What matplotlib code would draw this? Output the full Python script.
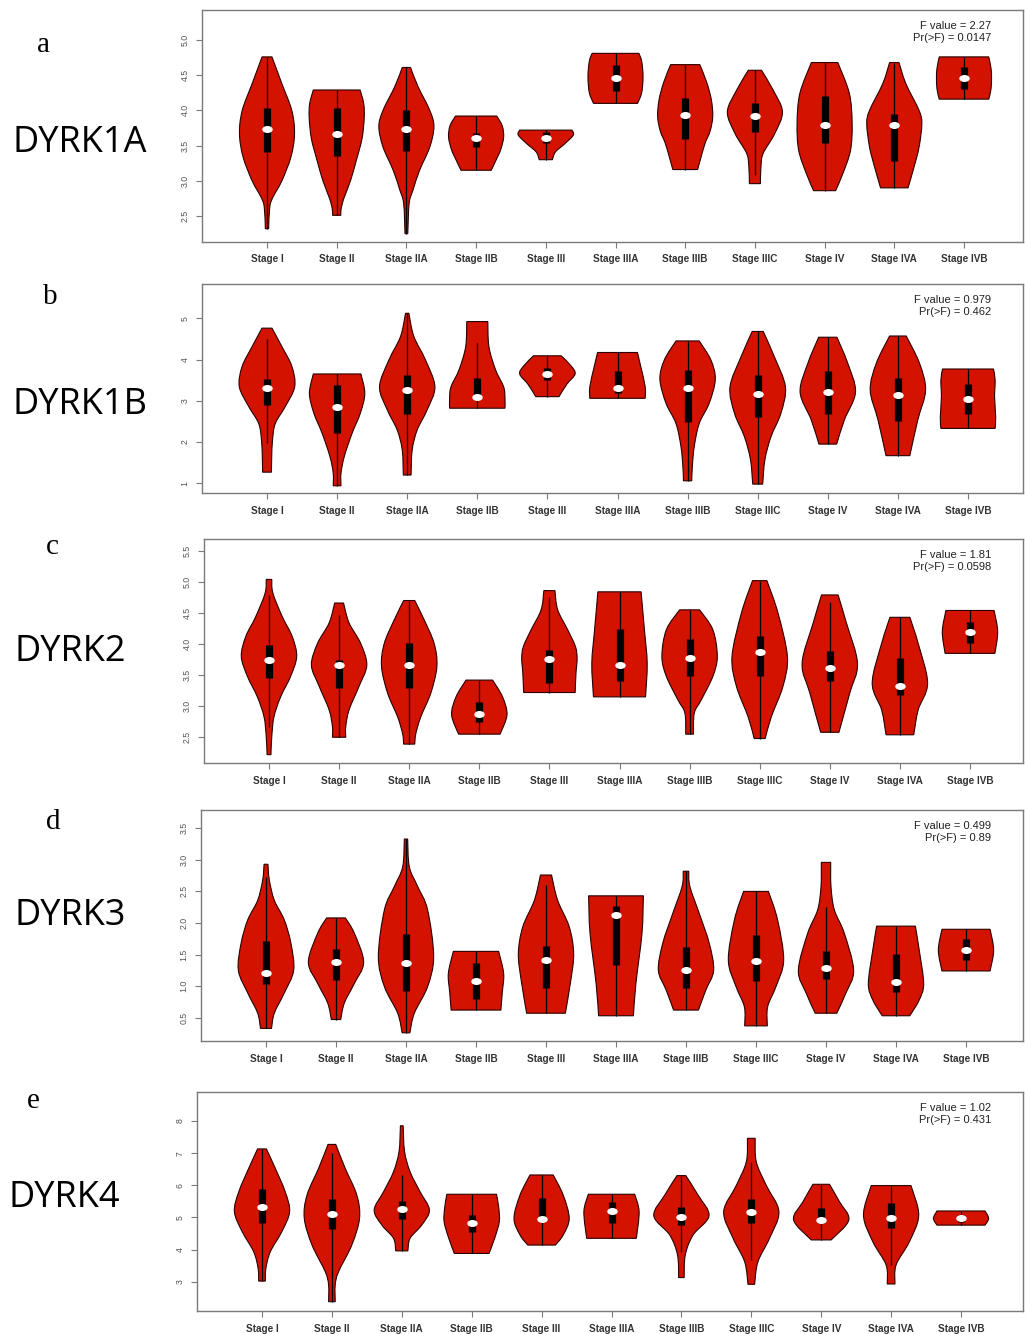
import numpy as np
import matplotlib.pyplot as plt
from matplotlib.path import Path
from matplotlib.patches import PathPatch
from matplotlib.transforms import Affine2D

stages = ["Stage I", "Stage II", "Stage IIA", "Stage IIB", "Stage III", "Stage IIIA",
          "Stage IIIB", "Stage IIIC", "Stage IV", "Stage IVA", "Stage IVB"]

# ---- DYRK1A ----
# density profiles: (expression, relative width), listed from top to bottom
dyrk1a_profiles = [
    [(4.76, 0.18), (4.38, 0.54), (4.0, 0.9), (3.67, 1.0), (3.34, 0.87), (3.0, 0.54), (2.77, 0.22), (2.63, 0.1), (2.32, 0.06)],
    [(4.29, 0.85), (4.1, 0.98), (3.9, 1.0), (3.6, 0.92), (3.3, 0.72), (3.0, 0.5), (2.75, 0.26), (2.6, 0.16), (2.51, 0.15)],
    [(4.61, 0.15), (4.34, 0.42), (4.0, 0.85), (3.77, 1.0), (3.48, 0.85), (3.15, 0.48), (2.87, 0.24), (2.68, 0.1), (2.25, 0.05)],
    [(3.92, 0.75), (3.78, 0.95), (3.62, 1.0), (3.45, 0.9), (3.34, 0.78), (3.15, 0.55)],
    [(3.72, 0.95), (3.65, 1.0), (3.53, 0.7), (3.41, 0.35), (3.30, 0.24)],
    [(4.81, 0.85), (4.7, 0.95), (4.48, 1.0), (4.25, 0.95), (4.10, 0.8)],
    [(4.65, 0.53), (4.4, 0.78), (4.15, 0.95), (3.91, 1.0), (3.7, 0.9), (3.53, 0.72), (3.3, 0.55), (3.16, 0.45)],
    [(4.57, 0.24), (4.29, 0.66), (3.98, 1.0), (3.67, 0.72), (3.39, 0.3), (3.2, 0.22), (2.96, 0.2)],
    [(4.68, 0.48), (4.24, 0.9), (3.81, 1.0), (3.43, 0.94), (3.10, 0.66), (2.86, 0.4)],
    [(4.68, 0.17), (4.38, 0.42), (4.0, 0.9), (3.81, 1.0), (3.48, 0.9), (3.2, 0.72), (2.90, 0.5)],
    [(4.76, 0.9), (4.6, 0.98), (4.47, 1.0), (4.3, 0.98), (4.16, 0.9)],
]
dyrk1a_median = [3.74, 3.66, 3.74, 3.61, 3.61, 4.46, 3.93, 3.92, 3.79, 3.79, 4.46]
dyrk1a_q1 = [3.41, 3.35, 3.43, 3.48, 3.53, 4.28, 3.60, 3.70, 3.54, 3.28, 4.31]
dyrk1a_q3 = [4.04, 4.03, 4.01, 3.68, 3.70, 4.64, 4.18, 4.11, 4.20, 3.95, 4.62]
dyrk1a_whisk_lo = [None, None, None, None, None, None, None, 3.08, None, None, None]
dyrk1a_whisk_hi = [None] * 11
dyrk1a_yticks = [2.5, 3.0, 3.5, 4.0, 4.5, 5.0]
dyrk1a_stats = ("2.27", "0.0147")

# ---- DYRK1B ----
dyrk1b_profiles = [
    [(4.76, 0.18), (4.31, 0.54), (3.83, 0.9), (3.34, 1.0), (2.86, 0.66), (2.45, 0.3), (2.05, 0.2), (1.65, 0.17), (1.27, 0.16)],
    [(3.65, 0.86), (3.18, 1.0), (2.70, 0.84), (2.21, 0.54), (1.65, 0.26), (1.24, 0.14), (0.94, 0.14)],
    [(5.12, 0.06), (4.56, 0.24), (3.99, 0.66), (3.34, 1.0), (2.78, 0.72), (2.29, 0.36), (1.81, 0.18), (1.20, 0.14)],
    [(4.92, 0.38), (4.31, 0.42), (3.75, 0.66), (3.34, 0.95), (3.06, 1.0), (2.82, 1.0)],
    [(4.09, 0.5), (3.85, 0.85), (3.65, 1.0), (3.4, 0.7), (3.10, 0.42)],
    [(4.17, 0.72), (3.83, 0.84), (3.34, 1.0), (3.06, 1.0)],
    [(4.45, 0.42), (3.99, 0.84), (3.52, 1.0), (2.94, 0.78), (2.45, 0.42), (1.89, 0.24), (1.40, 0.17), (1.06, 0.15)],
    [(4.68, 0.2), (4.07, 0.6), (3.34, 1.0), (2.70, 0.84), (2.13, 0.48), (1.57, 0.26), (0.98, 0.18)],
    [(4.54, 0.33), (3.91, 0.72), (3.21, 1.0), (2.54, 0.6), (1.95, 0.32)],
    [(4.57, 0.3), (3.91, 0.78), (3.26, 1.0), (2.54, 0.72), (1.67, 0.43)],
    [(3.77, 0.92), (3.5, 0.98), (3.1, 0.96), (2.6, 1.0), (2.33, 0.98)],
]
dyrk1b_median = [3.30, 2.84, 3.25, 3.08, 3.64, 3.32, 3.32, 3.17, 3.21, 3.14, 3.04]
dyrk1b_q1 = [2.90, 2.23, 2.67, 3.05, 3.51, 3.20, 2.49, 2.60, 2.68, 2.52, 2.68]
dyrk1b_q3 = [3.52, 3.38, 3.63, 3.55, 3.79, 3.73, 3.75, 3.63, 3.71, 3.54, 3.41]
dyrk1b_whisk_lo = [1.97, None, None, None, None, None, None, None, None, None, None]
dyrk1b_whisk_hi = [4.49, None, None, 4.39, None, None, None, None, None, None, None]
dyrk1b_yticks = [1, 2, 3, 4, 5]
dyrk1b_stats = ("0.979", "0.462")

# ---- DYRK2 ----
dyrk2_profiles = [
    [(5.04, 0.1), (4.82, 0.14), (4.44, 0.48), (4.12, 0.84), (3.80, 1.0), (3.48, 0.78), (3.15, 0.42), (2.83, 0.18), (2.51, 0.1), (2.22, 0.07)],
    [(4.66, 0.16), (4.34, 0.36), (4.01, 0.78), (3.66, 1.0), (3.32, 0.72), (2.94, 0.36), (2.67, 0.24), (2.50, 0.24)],
    [(4.70, 0.2), (4.39, 0.54), (4.01, 0.9), (3.64, 1.0), (3.21, 0.78), (2.83, 0.42), (2.56, 0.24), (2.39, 0.2)],
    [(3.42, 0.48), (3.15, 0.84), (2.86, 1.0), (2.55, 0.75)],
    [(4.86, 0.2), (4.55, 0.3), (4.23, 0.66), (3.96, 0.94), (3.77, 1.0), (3.53, 0.96), (3.22, 0.93)],
    [(4.84, 0.78), (4.23, 0.9), (3.69, 1.0), (3.15, 0.94)],
    [(4.55, 0.36), (4.23, 0.84), (3.80, 1.0), (3.48, 0.84), (3.10, 0.42), (2.89, 0.17), (2.55, 0.14)],
    [(5.02, 0.26), (4.50, 0.66), (3.80, 1.0), (3.32, 0.84), (2.83, 0.42), (2.48, 0.2)],
    [(4.79, 0.3), (4.34, 0.6), (3.69, 1.0), (3.21, 0.72), (2.58, 0.33)],
    [(4.43, 0.36), (4.01, 0.66), (3.37, 1.0), (2.94, 0.66), (2.54, 0.5)],
    [(4.54, 0.87), (4.20, 1.0), (3.85, 0.9)],
]
dyrk2_median = [3.74, 3.66, 3.67, 2.88, 3.76, 3.67, 3.78, 3.87, 3.61, 3.33, 4.20]
dyrk2_q1 = [3.45, 3.29, 3.30, 2.74, 3.37, 3.41, 3.49, 3.48, 3.40, 3.18, 4.02]
dyrk2_q3 = [3.99, 3.74, 4.02, 3.06, 3.91, 4.25, 4.08, 4.13, 3.89, 3.77, 4.36]
dyrk2_whisk_lo = [2.67, None, None, None, None, None, None, None, None, None, None]
dyrk2_whisk_hi = [4.79, 4.47, None, None, 4.76, None, None, None, 4.68, None, None]
dyrk2_yticks = [2.5, 3.0, 3.5, 4.0, 4.5, 5.0, 5.5]
dyrk2_stats = ("1.81", "0.0598")

# ---- DYRK3 ----
dyrk3_profiles = [
    [(2.93, 0.07), (2.68, 0.12), (2.36, 0.3), (2.05, 0.66), (1.68, 0.9), (1.25, 1.0), (0.89, 0.66), (0.57, 0.3), (0.33, 0.2)],
    [(2.08, 0.34), (1.84, 0.66), (1.38, 1.0), (1.04, 0.66), (0.73, 0.3), (0.47, 0.17)],
    [(3.33, 0.06), (2.89, 0.12), (2.58, 0.42), (2.21, 0.78), (1.47, 1.0), (0.99, 0.78), (0.57, 0.3), (0.26, 0.14)],
    [(1.55, 0.82), (1.2, 1.0), (0.9, 0.95), (0.62, 0.9)],
    [(2.76, 0.2), (2.36, 0.42), (1.94, 0.84), (1.52, 1.0), (1.10, 0.9), (0.57, 0.7)],
    [(2.43, 0.99), (1.84, 0.94), (1.04, 0.72), (0.53, 0.63)],
    [(2.82, 0.1), (2.58, 0.14), (2.15, 0.48), (1.68, 0.84), (1.25, 1.0), (0.94, 0.72), (0.62, 0.45)],
    [(2.50, 0.45), (2.05, 0.78), (1.41, 1.0), (0.99, 0.72), (0.67, 0.42), (0.37, 0.41)],
    [(2.96, 0.17), (2.58, 0.18), (2.21, 0.3), (1.84, 0.66), (1.25, 1.0), (0.89, 0.72), (0.57, 0.39)],
    [(1.95, 0.7), (1.57, 0.84), (1.04, 1.0), (0.78, 0.84), (0.53, 0.5)],
    [(1.90, 0.87), (1.57, 1.0), (1.24, 0.87)],
]
dyrk3_median = [1.20, 1.38, 1.36, 1.08, 1.42, 2.13, 1.25, 1.40, 1.28, 1.07, 1.57]
dyrk3_q1 = [1.04, 1.10, 0.93, 0.80, 0.97, 1.33, 0.97, 1.08, 1.12, 0.91, 1.41]
dyrk3_q3 = [1.72, 1.58, 1.83, 1.36, 1.64, 2.27, 1.62, 1.81, 1.56, 1.51, 1.74]
dyrk3_whisk_lo = [None] * 11
dyrk3_whisk_hi = [2.73, None, None, None, 2.60, None, None, None, 2.26, None, None]
dyrk3_yticks = [0.5, 1.0, 1.5, 2.0, 2.5, 3.0, 3.5]
dyrk3_stats = ("0.499", "0.89")

# ---- DYRK4 ----
dyrk4_profiles = [
    [(7.13, 0.16), (6.53, 0.48), (5.80, 0.84), (5.18, 1.0), (4.56, 0.72), (3.93, 0.3), (3.41, 0.14), (3.02, 0.12)],
    [(7.27, 0.14), (6.53, 0.48), (5.70, 0.9), (4.97, 1.0), (4.14, 0.72), (3.31, 0.24), (2.90, 0.12), (2.38, 0.12)],
    [(7.85, 0.05), (7.05, 0.1), (6.42, 0.3), (5.80, 0.66), (5.23, 1.0), (4.76, 0.72), (4.35, 0.3), (3.96, 0.22)],
    [(5.72, 0.9), (5.3, 0.98), (4.87, 1.0), (4.4, 0.85), (3.88, 0.63)],
    [(6.32, 0.42), (5.70, 0.78), (4.97, 1.0), (4.45, 0.78), (4.14, 0.5)],
    [(5.72, 0.84), (5.18, 1.0), (4.35, 0.9)],
    [(6.30, 0.16), (5.70, 0.6), (5.05, 1.0), (4.45, 0.42), (3.83, 0.14), (3.13, 0.1)],
    [(7.46, 0.14), (6.73, 0.18), (6.0, 0.54), (5.18, 1.0), (4.35, 0.66), (3.62, 0.24), (2.92, 0.12)],
    [(6.03, 0.3), (5.49, 0.66), (4.92, 1.0), (4.30, 0.36)],
    [(5.99, 0.72), (5.07, 1.0), (4.24, 0.66), (3.52, 0.18), (2.93, 0.14)],
    [(5.20, 0.87), (4.97, 1.0), (4.76, 0.87)],
]
dyrk4_median = [5.31, 5.10, 5.25, 4.82, 4.95, 5.20, 5.02, 5.18, 4.92, 4.99, 4.97]
dyrk4_q1 = [4.82, 4.64, 4.95, 4.56, 4.85, 4.82, 4.76, 4.82, 4.82, 4.66, 4.87]
dyrk4_q3 = [5.88, 5.56, 5.51, 5.07, 5.61, 5.49, 5.33, 5.56, 5.28, 5.44, 5.08]
dyrk4_whisk_lo = [None, None, None, None, None, None, 3.93, 3.67, None, 3.52, None]
dyrk4_whisk_hi = [None, 6.99, 6.32, None, None, None, None, 6.73, None, None, None]
dyrk4_yticks = [3, 4, 5, 6, 7, 8]
dyrk4_stats = ("1.02", "0.431")

panels = [
    ("a", "DYRK1A", dyrk1a_profiles, dyrk1a_median, dyrk1a_q1, dyrk1a_q3, dyrk1a_whisk_lo, dyrk1a_whisk_hi, dyrk1a_yticks, dyrk1a_stats),
    ("b", "DYRK1B", dyrk1b_profiles, dyrk1b_median, dyrk1b_q1, dyrk1b_q3, dyrk1b_whisk_lo, dyrk1b_whisk_hi, dyrk1b_yticks, dyrk1b_stats),
    ("c", "DYRK2", dyrk2_profiles, dyrk2_median, dyrk2_q1, dyrk2_q3, dyrk2_whisk_lo, dyrk2_whisk_hi, dyrk2_yticks, dyrk2_stats),
    ("d", "DYRK3", dyrk3_profiles, dyrk3_median, dyrk3_q1, dyrk3_q3, dyrk3_whisk_lo, dyrk3_whisk_hi, dyrk3_yticks, dyrk3_stats),
    ("e", "DYRK4", dyrk4_profiles, dyrk4_median, dyrk4_q1, dyrk4_q3, dyrk4_whisk_lo, dyrk4_whisk_hi, dyrk4_yticks, dyrk4_stats),
]

# layout in pixels: axes box (left, top, bottom), y limits, x of first/last tick,
# letter position, gene label position
W, H = 1025, 1334
RIGHT = 1023
layout = [
    dict(left=202, top=10, bottom=242, ylim=(2.131, 5.426), x1=267, x11=964, letter=(43, 45), gene=(12, 143)),
    dict(left=202, top=284, bottom=493, ylim=(0.765, 5.83), x1=267, x11=968, letter=(50, 297), gene=(12, 405)),
    dict(left=204, top=539, bottom=763, ylim=(2.086, 5.69), x1=269, x11=970, letter=(52, 547), gene=(14, 652)),
    dict(left=201, top=810, bottom=1041, ylim=(0.13, 3.79), x1=266, x11=966, letter=(53, 822), gene=(14, 916)),
    dict(left=197, top=1092, bottom=1311, ylim=(2.09, 8.9), x1=262, x11=961, letter=(33, 1101), gene=(8, 1198)),
]

RED = "#d41200"
EDGE = "#2a0000"
SPINE = "#7a7a7a"
HALF = 0.395  # half of the violin width, in x units
dot = Affine2D().scale(1.0, 0.62).transform_path(Path.unit_circle())


def smooth_side(pts, verts, codes):
    # cubic Bezier through the outline points (Catmull-Rom tangents)
    n = len(pts)
    for i in range(n - 1):
        p0, p1 = pts[max(i - 1, 0)], pts[i]
        p2, p3 = pts[i + 1], pts[min(i + 2, n - 1)]
        c1 = p1 + (p2 - p0) / 6
        c2 = p2 - (p3 - p1) / 6
        lo, hi = sorted((p1[1], p2[1]))
        c1[1] = np.clip(c1[1], lo, hi)
        c2[1] = np.clip(c2[1], lo, hi)
        verts += [tuple(c1), tuple(c2), tuple(p2)]
        codes += [Path.CURVE4] * 3


def violin_patch(x, prof):
    ys = np.array([p[0] for p in prof], dtype=float)
    hw = np.array([p[1] for p in prof], dtype=float) * HALF
    right = np.column_stack([x + hw, ys])
    left = np.column_stack([x - hw, ys])[::-1]
    verts, codes = [tuple(right[0])], [Path.MOVETO]
    smooth_side(right, verts, codes)
    verts.append(tuple(left[0]))
    codes.append(Path.LINETO)
    smooth_side(left, verts, codes)
    verts.append(tuple(right[0]))
    codes.append(Path.CLOSEPOLY)
    return PathPatch(Path(verts, codes), facecolor=RED, edgecolor=EDGE, lw=0.8, zorder=1)


fig = plt.figure(figsize=(W / 100, H / 100), dpi=100)
fig.patch.set_facecolor("white")

for (letter, gene, profiles, med, q1, q3, wlo, whi, yticks, fstats), lay in zip(panels, layout):
    ax = fig.add_axes([lay["left"] / W, 1 - lay["bottom"] / H,
                       (RIGHT - lay["left"]) / W, (lay["bottom"] - lay["top"]) / H])
    sp = (lay["x11"] - lay["x1"]) / 10
    ax.set_xlim(1 - (lay["x1"] - lay["left"]) / sp, 11 + (RIGHT - lay["x11"]) / sp)
    ax.set_ylim(*lay["ylim"])

    pos = np.arange(1, len(stages) + 1)
    for x, prof in zip(pos, profiles):
        ax.add_patch(violin_patch(x, prof))

    lo = [w if w is not None else p[-1][0] for w, p in zip(wlo, profiles)]
    hi = [w if w is not None else p[0][0] for w, p in zip(whi, profiles)]
    ax.vlines(pos, lo, hi, color="black", lw=0.9, zorder=2)
    ax.vlines(pos, q1, q3, color="black", lw=5.2, zorder=3)
    ax.plot(pos, med, ls="none", marker=dot, ms=6.5, color="white", zorder=4)

    ax.set_xticks(pos)
    ax.set_xticklabels(stages, fontsize=7.2, color="#333333", fontweight="bold",
                       family="Liberation Sans")
    ax.set_yticks(yticks)
    ax.set_yticklabels([str(t) if isinstance(t, int) else f"{t:.1f}" for t in yticks],
                       fontsize=6.3, color="#555555", rotation=90, va="center",
                       family="Liberation Sans")
    ax.tick_params(axis="x", length=4, width=0.8, color=SPINE, pad=5)
    ax.tick_params(axis="y", length=4, width=0.8, color=SPINE, pad=5)
    for s in ax.spines.values():
        s.set_color(SPINE)
        s.set_linewidth(1.0)

    h = lay["bottom"] - lay["top"]
    xr = (991 - lay["left"]) / (RIGHT - lay["left"])
    ax.text(xr, 1 - 16 / h, f"F value = {fstats[0]}", transform=ax.transAxes,
            ha="right", va="center", fontsize=8, color="#222222", family="Liberation Sans")
    ax.text(xr, 1 - 28 / h, f"Pr(>F) = {fstats[1]}", transform=ax.transAxes,
            ha="right", va="center", fontsize=8, color="#222222", family="Liberation Sans")

    fig.text(lay["letter"][0] / W, 1 - lay["letter"][1] / H, letter, fontsize=21,
             family="Liberation Serif", ha="center", va="center")
    fig.text(lay["gene"][0] / W, 1 - lay["gene"][1] / H, gene, fontsize=26,
             family="Open Sans", ha="left", va="center")

fig.savefig("out.png", dpi=100, facecolor="white")
